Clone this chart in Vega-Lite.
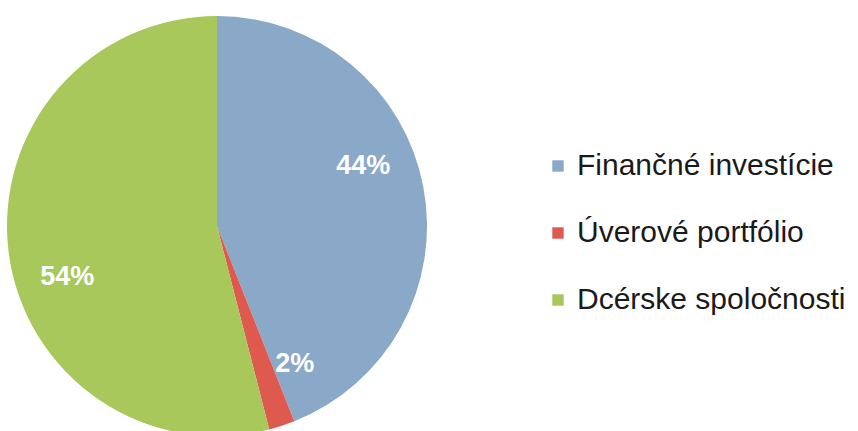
{
  "$schema": "https://vega.github.io/schema/vega-lite/v6.json",
  "width": 434,
  "height": 452,
  "padding": {"left": 0, "top": 0, "right": 424, "bottom": 0},
  "autosize": {"type": "none"},
  "background": "white",
  "config": {"view": {"stroke": null}},
  "data": {"values": [
    {"category": "Finančné investície", "value": 44, "label": "44%", "order": 1},
    {"category": "Úverové portfólio", "value": 2, "label": "2%", "order": 2},
    {"category": "Dcérske spoločnosti", "value": 54, "label": "54%", "order": 3}
  ]},
  "encoding": {
    "theta": {"field": "value", "type": "quantitative", "stack": true},
    "order": {"field": "order", "type": "quantitative"},
    "color": {
      "field": "category", "type": "nominal",
      "sort": ["Finančné investície", "Úverové portfólio", "Dcérske spoločnosti"],
      "scale": {
        "domain": ["Finančné investície", "Úverové portfólio", "Dcérske spoločnosti"],
        "range": ["#8aa8c8", "#de5a4e", "#a8c85c"]
      },
      "legend": {
        "orient": "none",
        "legendX": 543,
        "legendY": 151,
        "title": null,
        "symbolType": "square",
        "symbolSize": 130,
        "symbolStrokeWidth": 0,
        "labelFontSize": 30,
        "labelFont": "Liberation Sans",
        "labelColor": "#1a1a1a",
        "labelOffset": 4,
        "labelLimit": 400,
        "rowPadding": 37
      }
    }
  },
  "layer": [
    {"mark": {"type": "arc", "outerRadius": 210}},
    {
      "mark": {"type": "text", "radius": 158, "thetaOffset": -0.2, "fontSize": 27, "fontWeight": "bold", "font": "Liberation Sans", "fill": "white"},
      "encoding": {"text": {"field": "label"}, "color": {"value": "white"}}
    }
  ]
}
